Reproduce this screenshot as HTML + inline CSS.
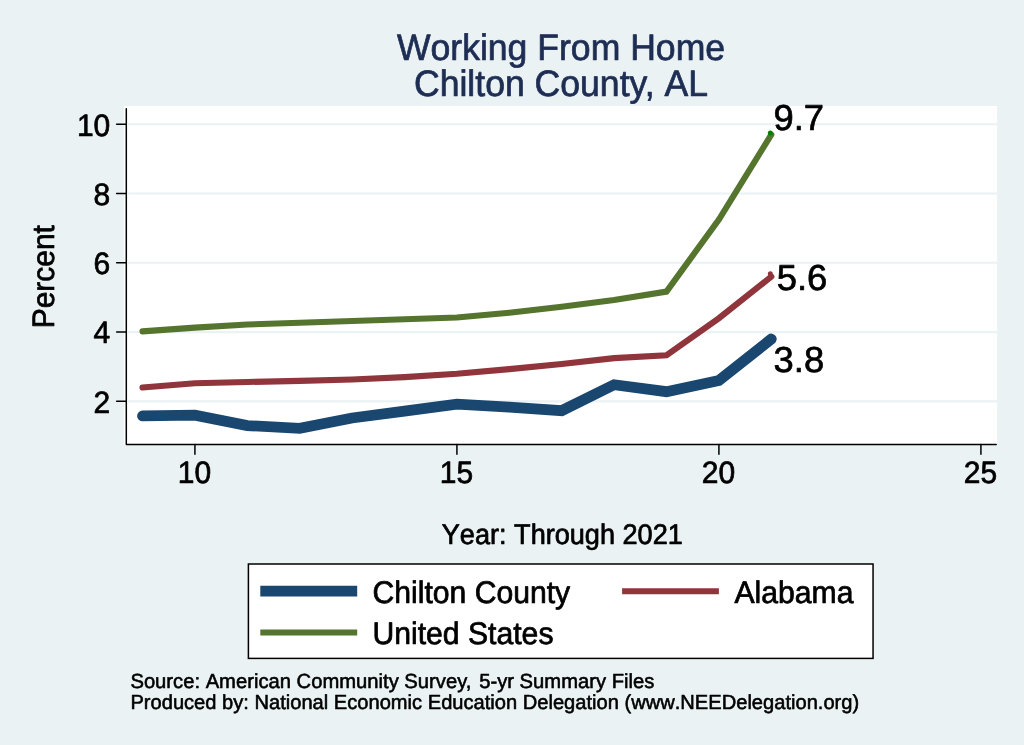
<!DOCTYPE html>
<html lang="en">
<head>
<meta charset="utf-8">
<title>Working From Home - Chilton County, AL</title>
<style>
html,body{margin:0;padding:0;background:#eaf2f3;}
body{width:1024px;height:745px;overflow:hidden;font-family:"Liberation Sans",sans-serif;}
svg{display:block;}
svg text{font-kerning:none;}
</style>
</head>
<body>
<svg width="1024" height="745" viewBox="0 0 1024 745">
<rect x="0" y="0" width="1024" height="745" fill="#eaf2f3"/>
<rect x="123.9" y="106.0" width="873.2" height="339.0" fill="#fff"/>
<line x1="128.2" x2="997.1" y1="401.36" y2="401.36" stroke="#eaf2f3" stroke-width="2.1"/>
<line x1="128.2" x2="997.1" y1="332.09" y2="332.09" stroke="#eaf2f3" stroke-width="2.1"/>
<line x1="128.2" x2="997.1" y1="262.82" y2="262.82" stroke="#eaf2f3" stroke-width="2.1"/>
<line x1="128.2" x2="997.1" y1="193.55" y2="193.55" stroke="#eaf2f3" stroke-width="2.1"/>
<line x1="128.2" x2="997.1" y1="124.28" y2="124.28" stroke="#eaf2f3" stroke-width="2.1"/>
<polyline points="142.5,415.9 194.9,415.2 247.3,425.6 299.7,428.4 352.1,418.0 404.5,411.1 456.9,404.1 509.3,407.2 561.7,410.7 614.1,384.7 666.5,391.7 718.9,380.6 771.3,339.0" fill="none" stroke="#1a476f" stroke-width="10.8" stroke-linecap="round" stroke-linejoin="miter"/>
<polyline points="142.5,387.5 194.9,383.3 247.3,382.0 299.7,380.9 352.1,379.5 404.5,377.1 456.9,373.7 509.3,369.1 561.7,364.0 614.1,358.1 666.5,355.3 718.9,318.2 771.3,276.7" fill="none" stroke="#90353b" stroke-width="6.1" stroke-linecap="round" stroke-linejoin="miter"/>
<polyline points="142.5,331.4 194.9,327.6 247.3,324.5 299.7,322.7 352.1,321.0 404.5,319.3 456.9,317.5 509.3,312.7 561.7,306.8 614.1,299.9 666.5,291.6 718.9,219.5 771.3,134.7" fill="none" stroke="#55752f" stroke-width="6.1" stroke-linecap="round" stroke-linejoin="miter"/>
<circle cx="770.3" cy="132.9" r="2.5" fill="#008000"/>
<circle cx="770.3" cy="273.8" r="2.5" fill="#90353b"/>
<g stroke="#000" stroke-width="1.5" fill="none" stroke-linecap="round" stroke-linejoin="round">
<polyline points="126.30,108.8 126.30,444.50 996.20,444.50"/>
<line x1="116.6" x2="126.3" y1="401.36" y2="401.36"/>
<line x1="116.6" x2="126.3" y1="332.09" y2="332.09"/>
<line x1="116.6" x2="126.3" y1="262.82" y2="262.82"/>
<line x1="116.6" x2="126.3" y1="193.55" y2="193.55"/>
<line x1="116.6" x2="126.3" y1="124.28" y2="124.28"/>
<line x1="194.92" x2="194.92" y1="444.5" y2="454.2"/>
<line x1="456.92" x2="456.92" y1="444.5" y2="454.2"/>
<line x1="718.92" x2="718.92" y1="444.5" y2="454.2"/>
<line x1="980.92" x2="980.92" y1="444.5" y2="454.2"/>
</g>
<g font-family="'Liberation Sans', sans-serif" fill="#000" stroke="#000" stroke-width="0.70" stroke-linejoin="round" text-rendering="geometricPrecision">
<text transform="translate(110.30,412.76) scale(1.0000,1.0300)" font-size="30.00" text-anchor="end">2</text>
<text transform="translate(110.30,343.49) scale(1.0000,1.0300)" font-size="30.00" text-anchor="end">4</text>
<text transform="translate(110.30,274.22) scale(1.0000,1.0300)" font-size="30.00" text-anchor="end">6</text>
<text transform="translate(110.30,204.95) scale(1.0000,1.0300)" font-size="30.00" text-anchor="end">8</text>
<text transform="translate(110.30,135.68) scale(1.0000,1.0300)" font-size="30.00" text-anchor="end">10</text>
<text transform="translate(194.52,482.50) scale(1.0000,1.0300)" font-size="30.00" text-anchor="middle">10</text>
<text transform="translate(456.52,482.50) scale(1.0000,1.0300)" font-size="30.00" text-anchor="middle">15</text>
<text transform="translate(718.52,482.50) scale(1.0000,1.0300)" font-size="30.00" text-anchor="middle">20</text>
<text transform="translate(980.52,482.50) scale(1.0000,1.0300)" font-size="30.00" text-anchor="middle">25</text>
<text transform="translate(53.85,276.65) rotate(-90) scale(1.0000,1.0350)" font-size="29.95" text-anchor="middle">Percent</text>
<text transform="translate(562.30,544.00) scale(1.0000,1.0500)" font-size="27.10" text-anchor="middle">Year: Through 2021</text>
<text transform="translate(561.00,59.50) scale(1.0000,1.0350)" font-size="35.60" fill="#1e2d53" stroke="#1e2d53" text-anchor="middle">Working From Home</text>
<text transform="translate(561.00,96.40) scale(1.0000,1.0350)" font-size="35.60" fill="#1e2d53" stroke="#1e2d53" text-anchor="middle">Chilton County<tspan dx="-2.6">,</tspan> AL</text>
<text transform="translate(773.40,129.90) scale(1.0000,0.9900)" font-size="36.40">9.7</text>
<text transform="translate(776.70,290.00) scale(1.0000,0.9900)" font-size="36.40">5.6</text>
<text transform="translate(773.60,372.30) scale(1.0000,0.9900)" font-size="36.40">3.8</text>
</g>
<rect x="248.4" y="564.0" width="624.65" height="94.4" fill="#fff" stroke="#000" stroke-width="1.5"/>
<line x1="260.3" x2="357.2" y1="591.15" y2="591.15" stroke="#1a476f" stroke-width="10.6"/>
<line x1="622.1" x2="718.9" y1="591.25" y2="591.25" stroke="#90353b" stroke-width="6.1"/>
<line x1="260.3" x2="357.2" y1="632.55" y2="632.55" stroke="#55752f" stroke-width="6.1"/>
<g font-family="'Liberation Sans', sans-serif" fill="#000" stroke="#000" stroke-width="0.70" stroke-linejoin="round" text-rendering="geometricPrecision">
<text transform="translate(372.50,602.90) scale(1.0000,1.0350)" font-size="30.15">Chilton County</text>
<text transform="translate(734.50,602.90) scale(1.0000,1.0350)" font-size="30.15">Alabama</text>
<text transform="translate(372.50,643.60) scale(1.0000,1.0350)" font-size="30.15">United States</text>
</g>
<g font-family="'Liberation Sans', sans-serif" fill="#000" stroke="#000" stroke-width="0.56" stroke-linejoin="round" text-rendering="geometricPrecision">
<text transform="translate(130.40,687.55) scale(1.0000,1.0100)" font-size="20.22">Source: American Community Survey<tspan dx="-1.4">,</tspan> <tspan dx="2.1">5</tspan>-yr Summary Files</text>
<text transform="translate(130.40,708.60) scale(1.0000,1.0100)" font-size="20.11">Produced by: National Economic Education Delegation (www.NEEDelegation.org)</text>
</g>
</svg>
</body>
</html>
